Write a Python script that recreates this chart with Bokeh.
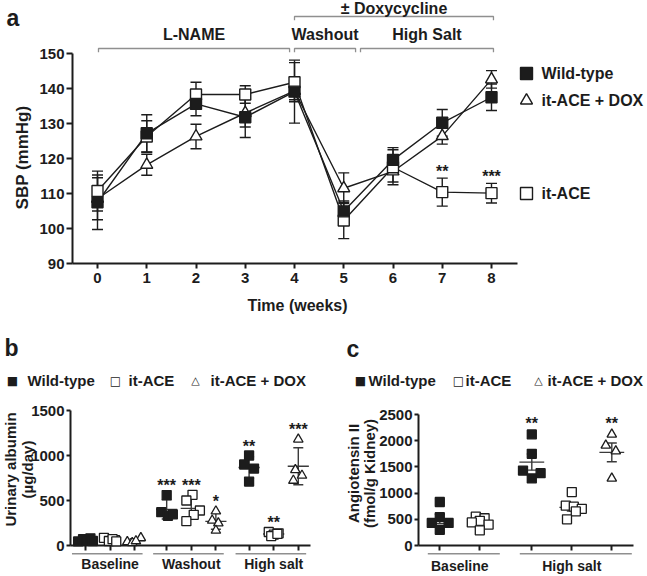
import numpy as np
from bokeh.plotting import figure
from bokeh.models import ColumnDataSource, Range1d, FixedTicker, Whisker, TeeHead
from bokeh.layouts import column, row
from bokeh.embed import file_html
from bokeh.resources import INLINE
from bokeh.core.properties import value

FONT = "Liberation Sans"
SYMFONT = "DejaVu Sans"
INK = "#1c1c1c"
GREY = "#8f8f8f"
MEANC = "#3a3a3a"

# ---------------- data: panel a (SBP, mean +/- error) ----------------
weeks = [0, 1, 2, 3, 4, 5, 6, 7, 8]
wt_sbp = [107.5, 127.2, 135.6, 131.8, 139.1, 104.9, 119.6, 130.2, 137.5]
wt_err = [7.8, 5.3, 3.4, 5.8, 9.0, 3.0, 3.5, 3.8, 3.8]
ace_sbp = [110.7, 126.3, 138.3, 138.3, 141.8, 102.3, 117.5, 110.4, 110.1]
ace_err = [5.7, 4.5, 3.5, 2.5, 5.6, 5.2, 5.0, 4.0, 2.8]
dox_sbp = [108.5, 118.2, 126.3, 133.0, 139.3, 111.5, 116.3, 126.4, 142.6]
dox_err = [6.0, 3.0, 3.5, 4.0, 2.5, 4.4, 3.0, 2.3, 2.5]
sig_a_weeks = [7, 8]
sig_a_text = ["**", "***"]

periods = ["L-NAME", "Washout", "High Salt"]
period_from = [0.02, 4.0, 5.34]
period_to = [3.9, 5.24, 8.04]
dox_text = "\u00b1 Doxycycline"
dox_from, dox_to = 4.0, 8.04

series_names = ["Wild-type", "it-ACE", "it-ACE + DOX"]

# ---------------- data: panel b (urinary albumin, ug/day) ----------------
b_groups = ["Baseline", "Washout", "High salt"]
alb_wt = [[45, 70, 55, 80, 50], [560, 370, 330, 345], [1000, 900, 855, 710]]
alb_ace = [[85, 60, 50, 70, 45], [563, 500, 389, 341, 270], [150, 135, 120, 105, 130]]
alb_dox = [[40, 30, 85, 50], [381, 278, 248, 167], [1180, 840, 778, 722]]
alb_sig = [["", "", ""], ["***", "***", "*"], ["**", "**", "***"]]
jit_b_wt = [[-0.3, -0.1, 0.05, 0.2, 0.3], [0.0, -0.22, 0.05, 0.25], [0.0, -0.2, 0.2, 0.0]]
jit_b_ace = [[-0.25, 0.2, -0.05, 0.1, 0.25], [0.05, -0.2, 0.35, 0.1, -0.2], [-0.2, 0.2, 0.0, -0.1, 0.15]]
jit_b_dox = [[-0.3, -0.1, 0.25, 0.05], [0.0, -0.15, 0.1, 0.0], [0.0, -0.12, 0.15, -0.2]]

# ---------------- data: panel c (angiotensin II, fmol/g kidney) ----------------
c_groups = ["Baseline", "High salt"]
ang_wt = [[830, 540, 430, 430, 300], [2120, 1750, 1430, 1380, 1280]]
ang_ace = [[550, 520, 470, 440, 400, 290], [1020, 760, 740, 700, 650, 500]]
ang_dox = [[], [2120, 1910, 1800, 1280]]
ang_sig = [["", "", ""], ["**", "", "**"]]
jit_c_wt = [[0.0, 0.0, -0.2, 0.22, 0.0], [0.0, 0.0, -0.22, 0.22, 0.0]]
jit_c_ace = [[-0.1, 0.12, 0.0, -0.2, 0.22, 0.0], [0.0, -0.15, 0.05, 0.25, 0.1, -0.12]]
jit_c_dox = [[], [0.0, -0.15, 0.1, 0.0]]

STYLE = {
    "Wild-type": dict(marker="square", fill_color=INK, line_color=INK),
    "it-ACE": dict(marker="square", fill_color="white", line_color=INK),
    "it-ACE + DOX": dict(marker="triangle", fill_color="white", line_color=INK),
}
SYMBOL = {"Wild-type": "\u25a0", "it-ACE": "\u25a1", "it-ACE + DOX": "\u25b3"}


def base_style(p, fsize):
    p.xgrid.visible = False
    p.ygrid.visible = False
    p.outline_line_color = None
    p.background_fill_color = "white"
    p.border_fill_color = "white"
    for ax in (p.xaxis[0], p.yaxis[0]):
        ax.axis_line_width = 2
        ax.axis_line_color = INK
        ax.major_tick_line_width = 2
        ax.major_tick_line_color = INK
        ax.major_tick_in = 0
        ax.minor_tick_line_color = None
        ax.major_label_text_font = FONT
        ax.major_label_text_font_style = "bold"
        ax.major_label_text_font_size = fsize
        ax.major_label_text_color = INK


def gtext(p, x, y, text, size, align="center", angle=0.0, baseline="middle", yoff=0,
          font=FONT, style="bold"):
    p.text(x=[x], y=[y], text=[text], angle=angle, text_font=value(font),
           text_font_style=style, text_font_size=size, text_align=align,
           text_baseline=baseline, text_color=INK, y_offset=yoff, level="overlay")


# =============================== panel a ===============================
PXW, PXV = 49.25, 3.5
A_L, A_B = 72, 263            # frame left / bottom (page pixels)
xa0 = (A_L - 97) / PXW
fa_x = lambda px: xa0 + (px - A_L) / PXW
fa_y = lambda py: 90 + (A_B - py) / PXV
pa = figure(width=647, height=322, output_backend="svg", toolbar_location=None,
            x_range=Range1d(xa0, fa_x(647)), y_range=Range1d(90, fa_y(0)),
            min_border_left=A_L, min_border_right=0, min_border_top=0,
            min_border_bottom=322 - A_B)
base_style(pa, "15px")
pa.xaxis.ticker = FixedTicker(ticks=weeks)
pa.xaxis.bounds = (xa0, 8.53)
pa.xaxis.major_tick_out = 5
pa.xaxis.major_label_standoff = 4
pa.yaxis.ticker = FixedTicker(ticks=[90, 100, 110, 120, 130, 140, 150])
pa.yaxis.bounds = (90, 150)
pa.yaxis.major_tick_out = 6
pa.yaxis.major_label_standoff = 2

sbp = {"Wild-type": (wt_sbp, wt_err), "it-ACE": (ace_sbp, ace_err),
       "it-ACE + DOX": (dox_sbp, dox_err)}
order = ["it-ACE + DOX", "it-ACE", "Wild-type"]
for name in order:
    v, e = sbp[name]
    pa.line(weeks, v, line_color=INK, line_width=1.4)
for name in order:
    v, e = sbp[name]
    src = ColumnDataSource(dict(x=weeks, lo=[a - b for a, b in zip(v, e)],
                                hi=[a + b for a, b in zip(v, e)]))
    pa.add_layout(Whisker(source=src, base="x", lower="lo", upper="hi",
                          line_color=INK, line_width=1.4,
                          upper_head=TeeHead(size=11, line_color=INK, line_width=1.4),
                          lower_head=TeeHead(size=11, line_color=INK, line_width=1.4)))
for name in order:
    v, e = sbp[name]
    pa.scatter(weeks, v, size=12 if name == "it-ACE + DOX" else 11, line_width=1.4,
               **STYLE[name])

# significance (it-ACE vs others)
pa.text(x=sig_a_weeks, y=[ace_sbp[w] + ace_err[w] + 3.0 for w in sig_a_weeks],
        text=sig_a_text, text_font=value(FONT), text_font_style="bold",
        text_font_size="16px", text_align="center", text_baseline="middle",
        y_offset=4, text_color=INK)

# period brackets
BR_Y, TK = fa_y(48), 1.1
pa.multi_line([[a, a, b, b] for a, b in zip(period_from, period_to)],
              [[BR_Y - TK, BR_Y, BR_Y, BR_Y - TK]] * len(periods),
              line_color=GREY, line_width=1.3)
pa.text(x=[(a + b) / 2 for a, b in zip(period_from, period_to)], y=[fa_y(34)] * len(periods),
        text=periods, text_font=value(FONT), text_font_style="bold", text_font_size="16px",
        text_align="center", text_baseline="middle", text_color=INK)
DX_Y = fa_y(16)
pa.multi_line([[dox_from, dox_from, dox_to, dox_to]], [[DX_Y - TK, DX_Y, DX_Y, DX_Y - TK]],
              line_color=GREY, line_width=1.3)
pa.text(x=[(dox_from + dox_to) / 2], y=[fa_y(8)], text=[dox_text], text_font=value(FONT),
        text_font_style="bold", text_font_size="16px", text_align="center",
        text_baseline="middle", text_color=INK)

# legend (a)
leg_a_py = {"Wild-type": 73, "it-ACE + DOX": 100, "it-ACE": 193}
for name, py in leg_a_py.items():
    pa.scatter([fa_x(526)], [fa_y(py)], size=12, line_width=1.4, **STYLE[name])
    gtext(pa, fa_x(541), fa_y(py), name, "16px", align="left")

gtext(pa, fa_x(6), fa_y(17), "a", "23px", align="left")
gtext(pa, fa_x(22), fa_y(157), "SBP (mmHg)", "17px", angle=np.pi / 2)
gtext(pa, fa_x(297), fa_y(305), "Time (weeks)", "16px")


# ============================ dot plots (b, c) ============================
def dot_panel(p, groups, base, data, jitter, sig, err_kind, mean_hw, star_gap,
              fy, line_py, label_py, under_pad):
    for k, name in enumerate(series_names):
        xs, ys = [], []
        mx0, mx1, my, lo, hi = [], [], [], [], []
        for g in range(len(groups)):
            vals = data[name][g]
            if not vals:
                continue
            pos = base[g] + k
            xs += [pos + j for j in jitter[name][g]]
            ys += vals
            arr = np.array(vals, dtype=float)
            m = arr.mean()
            s = arr.std(ddof=1)
            if err_kind == "sem":
                s = s / np.sqrt(len(arr))
            mx0.append(pos - mean_hw); mx1.append(pos + mean_hw); my.append(m)
            lo.append(m - s); hi.append(m + s)
            if sig[g][k]:
                p.text(x=[pos], y=[max(arr.max(), m + s) + star_gap], text=[sig[g][k]],
                       text_font=value(FONT), text_font_style="bold", text_font_size="16px",
                       text_align="center", text_baseline="middle", y_offset=4,
                       text_color=INK)
        p.segment(x0=mx0, y0=my, x1=mx1, y1=my, line_color=MEANC, line_width=1.4)
        src = ColumnDataSource(dict(x=[(a + b) / 2 for a, b in zip(mx0, mx1)], lo=lo, hi=hi))
        p.add_layout(Whisker(source=src, base="x", lower="lo", upper="hi",
                             line_color=MEANC, line_width=1.4,
                             upper_head=TeeHead(size=10, line_color=MEANC, line_width=1.4),
                             lower_head=TeeHead(size=10, line_color=MEANC, line_width=1.4)))
        p.scatter(xs, ys, size=9.5 if name == "it-ACE + DOX" else 9,
                  line_width=1.3, level="overlay", **STYLE[name])
    # group underlines and labels
    for g, gname in enumerate(groups):
        members = [base[g] + k for k, n in enumerate(series_names) if data[n][g]]
        x0, x1 = members[0] - under_pad[0], members[-1] + under_pad[1]
        p.segment(x0=[x0], y0=[fy(line_py)], x1=[x1], y1=[fy(line_py)], line_color=GREY,
                  line_width=1.5, level="overlay")
        gtext(p, (members[0] + members[-1]) / 2, fy(label_py), gname, "14px")


def style_dot_axes(p, yticks, xb):
    base_style(p, "15px")
    p.xaxis.ticker = FixedTicker(ticks=xb[2])
    p.xaxis.bounds = (xb[0], xb[1])
    p.xaxis.major_tick_out = 5
    p.xaxis.major_label_text_color = None
    p.yaxis.ticker = FixedTicker(ticks=yticks)
    p.yaxis.bounds = (yticks[0], yticks[-1])
    p.yaxis.major_tick_out = 4
    p.yaxis.major_label_standoff = 2


def sym_legend(p, fx, fy, mk_px, txt_px, py):
    # legend row drawn outside the frame: symbol characters + labels
    for name, mx, tx in zip(series_names, mk_px, txt_px):
        gtext(p, fx(mx), fy(py), SYMBOL[name], "12px" if name != "it-ACE + DOX" else "11px",
              font=SYMFONT, style="normal")
        gtext(p, fx(tx), fy(py), name, "15px", align="left")


BC_TOP, BC_BOT, BC_H = 322, 545, 252

# =============================== panel b ===============================
PBX, PBY = 24.6, 0.09
B_L, B_R = 70, 318
xb0 = (B_L - 85) / PBX
fb_x = lambda px: xb0 + (px - B_L) / PBX
fb_y = lambda py: (BC_BOT - py) / PBY
b_base = [0.0, 3.3, 6.65]
pb = figure(width=324, height=BC_H, output_backend="svg", toolbar_location=None,
            x_range=Range1d(xb0, fb_x(B_R)), y_range=Range1d(0, fb_y(BC_TOP)),
            min_border_left=B_L, min_border_right=324 - B_R, min_border_top=0,
            min_border_bottom=BC_TOP + BC_H - BC_BOT)
style_dot_axes(pb, [0, 500, 1000, 1500],
               (xb0, 9.15, [b + k for b in b_base for k in range(3)]))
dot_panel(pb, b_groups, b_base,
          {"Wild-type": alb_wt, "it-ACE": alb_ace, "it-ACE + DOX": alb_dox},
          {"Wild-type": jit_b_wt, "it-ACE": jit_b_ace, "it-ACE + DOX": jit_b_dox},
          alb_sig, "sd", 0.43, 150, fb_y, 553.3, 563.5, (0.55, 0.32))
sym_legend(pb, fb_x, fb_y, [12, 115, 195], [27, 128, 210], 380)
gtext(pb, fb_x(4), fb_y(347), "b", "23px", align="left")
gtext(pb, fb_x(10), fb_y(469), "Urinary albumin", "15px", angle=np.pi / 2)
gtext(pb, fb_x(27), fb_y(469), "(\u00b5g/day)", "15px", angle=np.pi / 2)

# =============================== panel c ===============================
PCX, PCY = 40.0, 0.0524
C_L, C_W = 94, 323
xc0 = (418 - 439.3) / PCX
fc_x = lambda px: xc0 + (px - 418) / PCX
fc_y = lambda py: (BC_BOT - py) / PCY
c_base = [0.0, 2.3]
pc = figure(width=C_W, height=BC_H, output_backend="svg", toolbar_location=None,
            x_range=Range1d(xc0, fc_x(647)), y_range=Range1d(0, fc_y(BC_TOP)),
            min_border_left=C_L, min_border_right=0, min_border_top=0,
            min_border_bottom=BC_TOP + BC_H - BC_BOT)
style_dot_axes(pc, [0, 500, 1000, 1500, 2000, 2500],
               (xc0, 4.85, [0.0, 1.0, 2.3, 3.3, 4.3]))
dot_panel(pc, c_groups, c_base,
          {"Wild-type": ang_wt, "it-ACE": ang_ace, "it-ACE + DOX": ang_dox},
          {"Wild-type": jit_c_wt, "it-ACE": jit_c_ace, "it-ACE + DOX": jit_c_dox},
          ang_sig, "sem", 0.31, 280, fc_y, 553.3, 565.5, (0.3, 0.5))
sym_legend(pc, fc_x, fc_y, [360, 458, 538], [368, 465, 547], 380)
gtext(pc, fc_x(346), fc_y(348), "c", "23px", align="left")
gtext(pc, fc_x(353), fc_y(473), "Angiotensin II", "15px", angle=np.pi / 2)
gtext(pc, fc_x(369), fc_y(473), "(fmol/g Kidney)", "15px", angle=np.pi / 2)

layout = column(pa, row(pb, pc, spacing=0), spacing=0)
open("out.html", "w").write(file_html(layout, INLINE))
